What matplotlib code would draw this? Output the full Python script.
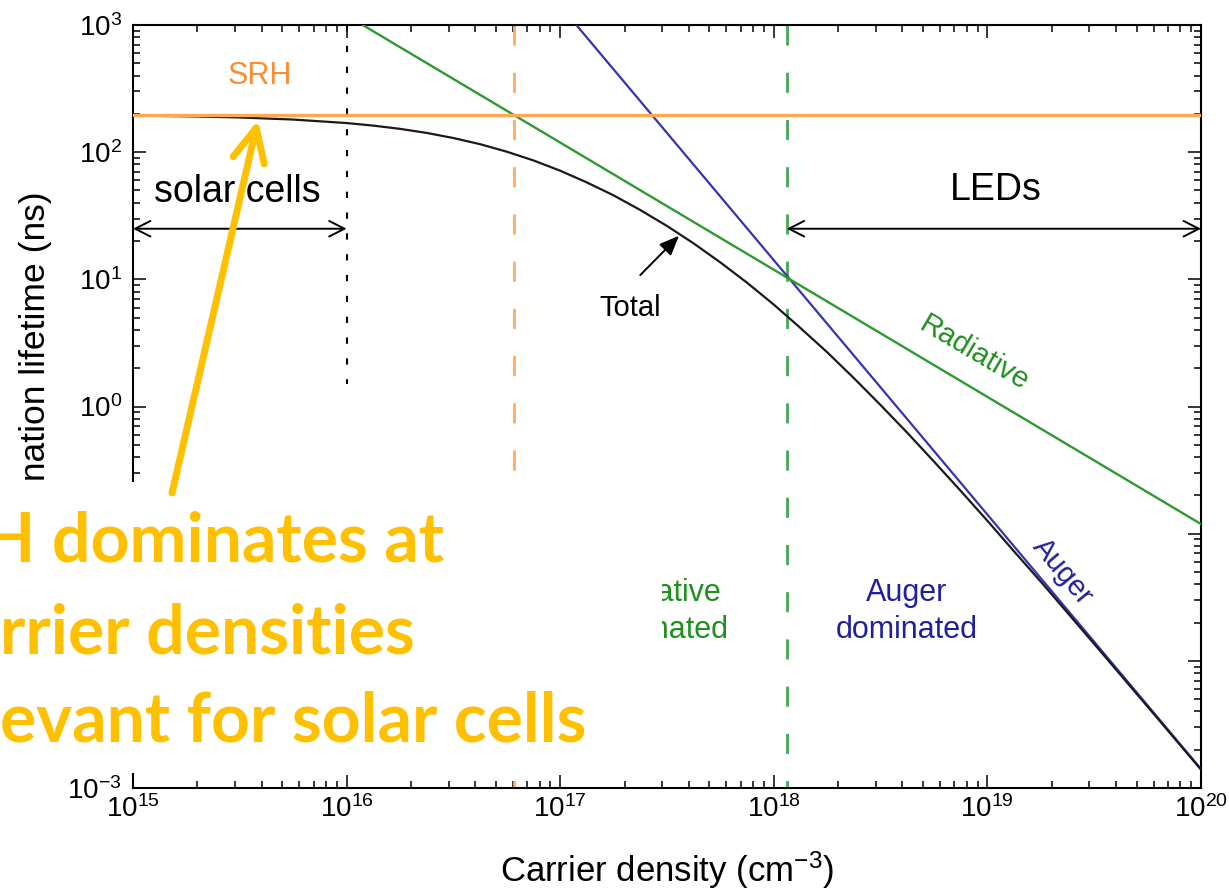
import matplotlib
matplotlib.use('Agg')
import matplotlib.pyplot as plt
from matplotlib.patches import Rectangle, FancyArrowPatch
from matplotlib.ticker import LogLocator, NullFormatter

# values (carrier density in cm^-3, lifetime in ns)
total_n = [1e15, 1.78e15, 3.16e15, 5.62e15, 1e16, 1.33e16, 1.78e16, 2.37e16,
           3.16e16, 4.22e16, 5.62e16, 7.5e16, 1e17, 1.33e17, 1.78e17, 2.37e17,
           3.16e17, 4.22e17, 5.62e17, 7.5e17, 1e18, 1.33e18, 1.78e18, 2.37e18,
           3.16e18, 4.22e18, 5.62e18, 7.5e18, 1e19, 1.33e19, 1.78e19, 2.37e19,
           3.16e19, 5.62e19, 1e20]
total_tau = [193.9, 191.5, 187.4, 180.5, 169.4, 161.8, 152.5, 141.7,
             129.2, 115.5, 100.9, 86.05, 71.5, 57.9, 45.7, 35.09,
             26.3, 19.14, 13.59, 9.397, 6.33, 4.156, 2.666, 1.672,
             1.027, 0.6204, 0.3692, 0.217, 0.1263, 0.07289, 0.04186, 0.02391,
             0.0136, 0.004369, 0.001394]

srh_n = [1e15, 1e20]
srh_tau = [197, 197]
rad_n = [1.19e16, 1e20]
rad_tau = [1000, 0.119]
aug_n = [1.19e17, 1e20]
aug_tau = [1000, 0.00141]

srh_rad_cross = 6.1e16
rad_aug_cross = 1.15e18
solar_range = [1e15, 1e16]
led_range = [1.15e18, 1e20]
range_level = 25
solar_limit_bottom = 1.5
total_tip = (3.6e17, 22)
total_tail = (2.37e17, 10.8)

plt.rcParams['font.family'] = ['Liberation Sans', 'DejaVu Sans']
plt.rcParams['mathtext.fontset'] = 'custom'
plt.rcParams['mathtext.rm'] = 'Liberation Sans'
plt.rcParams['mathtext.it'] = 'Liberation Sans:italic'
plt.rcParams['mathtext.bf'] = 'Liberation Sans:bold'
plt.rcParams['axes.unicode_minus'] = False
plt.rcParams['lines.scale_dashes'] = False

W, H = 1229, 891
fig = plt.figure(figsize=(W / 100, H / 100), dpi=100)
ax = fig.add_axes([133 / W, 1 - 788 / H, 1068 / W, 763 / H])

orange = '#FFA852'
green = '#2E9A2E'
blue = '#3434B0'

ax.plot(aug_n, aug_tau, color=blue, lw=1.6, zorder=3)
ax.plot(total_n, total_tau, color='#1a1a1a', lw=1.6, zorder=4)
ax.plot(rad_n, rad_tau, color=green, lw=1.7, zorder=3)
ax.plot(srh_n, srh_tau, color=orange, lw=2.4, zorder=5)

dash = (0, (14.5, 19.5))
ax.plot([srh_rad_cross, srh_rad_cross], [1e3, 1e-3], color='#FFAA60', lw=2.0, ls=dash, zorder=2)
ax.plot([rad_aug_cross, rad_aug_cross], [1e3, 1e-3], color='#44A855', lw=2.0, ls=dash, zorder=2)
ax.plot([solar_range[1], solar_range[1]], [1e3, solar_limit_bottom], color='black',
        lw=1.5, ls=(0, (4.5, 10.5)), zorder=2)

ax.set_xscale('log')
ax.set_yscale('log')
ax.set_xlim(1e15, 1e20)
ax.set_ylim(1e-3, 1e3)
for axis in (ax.xaxis, ax.yaxis):
    axis.set_major_locator(LogLocator(base=10, numticks=20))
    axis.set_minor_locator(LogLocator(base=10, subs=range(2, 10), numticks=20))
    axis.set_minor_formatter(NullFormatter())
ax.tick_params(which='both', direction='in', top=True, right=True, width=1.1, labelsize=20)
ax.tick_params(which='major', length=9.5)
ax.tick_params(which='minor', length=5)
ax.tick_params(axis='x', pad=5)
ax.tick_params(axis='y', pad=8)
for s in ax.spines.values():
    s.set_linewidth(1.5)

ax.set_xlabel('Carrier density (cm$^{-3}$)', fontsize=25)
ax.xaxis.set_label_coords(0.5, -0.080)
ax.set_ylabel('Recombination lifetime (ns)', fontsize=25.5)
ax.yaxis.set_label_coords(-0.0758, 0.5)

# range arrows
arrow_kw = dict(arrowstyle='<->,head_length=0.55,head_width=0.28', color='black', lw=1.4,
                shrinkA=0, shrinkB=0, mutation_scale=20)
ax.annotate('', xy=(solar_range[1], range_level), xytext=(solar_range[0], range_level),
            arrowprops=arrow_kw)
ax.annotate('', xy=(led_range[1], range_level), xytext=(led_range[0], range_level),
            arrowprops=arrow_kw)
ax.text(0.0974, 0.768, 'solar cells', transform=ax.transAxes, fontsize=27,
        ha='center', va='baseline')
ax.text(0.808, 0.771, 'LEDs', transform=ax.transAxes, fontsize=27,
        ha='center', va='baseline')

ax.text(0.119, 0.933, 'SRH', transform=ax.transAxes, fontsize=22, color='#FF8C30',
        ha='center', va='center')
ax.annotate('', xy=total_tip, xytext=total_tail,
            arrowprops=dict(arrowstyle='-|>,head_length=0.6,head_width=0.25', color='black',
                            lw=1.4, shrinkA=0, shrinkB=0, mutation_scale=20))
ax.text(0.4654, 0.6186, 'Total', transform=ax.transAxes, fontsize=21,
        ha='center', va='baseline')
ax.text(0.788, 0.570, 'Radiative', transform=ax.transAxes, fontsize=21, color='#1E901E',
        rotation=-30.6, rotation_mode='anchor', ha='center', va='center')
ax.text(0.870, 0.283, 'Auger', transform=ax.transAxes, fontsize=21, color='#20209E',
        rotation=-50, rotation_mode='anchor', ha='center', va='center')
ax.text(0.7247, 0.231, 'Auger\ndominated', transform=ax.transAxes, fontsize=22,
        color='#20209E', ha='center', va='center', linespacing=1.3)
ax.text(0.4916, 0.231, 'Radiative\ndominated', transform=ax.transAxes, fontsize=22,
        color='#1E901E', ha='center', va='center', linespacing=1.3)

# white box pasted over the lower left of the chart
fig.add_artist(Rectangle((0, 1 - 773 / H), 662 / W, (773 - 482) / H,
                         transform=fig.transFigure, facecolor='white',
                         edgecolor='none', zorder=10))

gold = '#FFC000'
for txt, x0, base in [('H dominates at', -17, 562), ('rrier densities', 0, 653),
                      ('evant for solar cells', 0, 742)]:
    fig.text(x0 / W, 1 - base / H, txt, fontfamily='Lato', fontweight='bold', fontsize=49,
             color=gold, ha='left', va='baseline', zorder=12)

big_arrow = FancyArrowPatch((172 / W, 1 - 493 / H), (258 / W, 1 - 120 / H),
                            transform=fig.transFigure,
                            arrowstyle='->,head_length=2.4,head_width=1.15',
                            mutation_scale=10, lw=5, color=gold,
                            shrinkA=0, shrinkB=0, capstyle='round', joinstyle='round',
                            zorder=12)
fig.add_artist(big_arrow)

fig.savefig('out.png', dpi=100)
